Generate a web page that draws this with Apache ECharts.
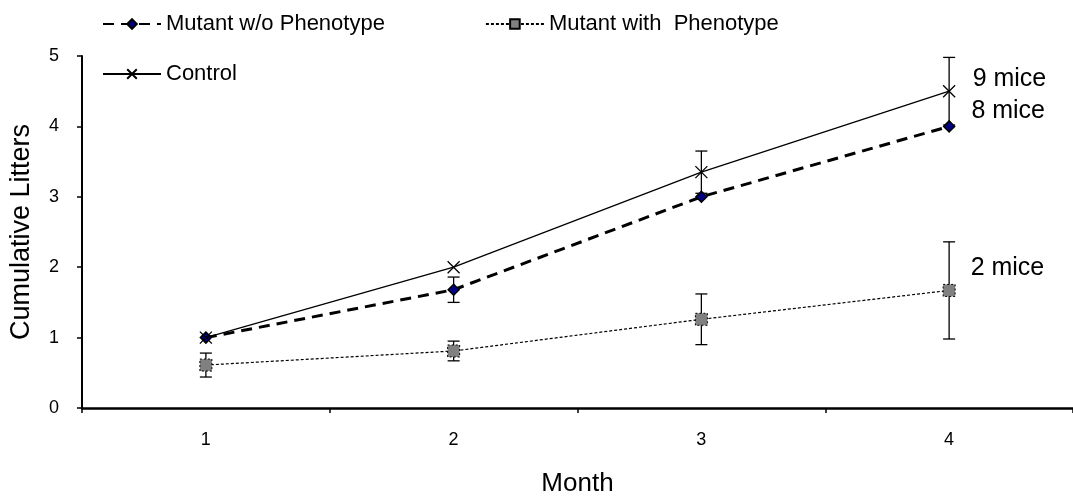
<!DOCTYPE html>
<html>
<head>
<meta charset="utf-8">
<script src="https://cdn.jsdelivr.net/npm/echarts@6/dist/echarts.min.js"></script>
<style>
  html, body { margin: 0; padding: 0; background: #fff; }
  #chart { width: 1073px; height: 502px; }
</style>
</head>
<body>
<div id="chart"></div>
<script>
// 月份
var months = ['1', '2', '3', '4'];
// 各组均值与误差
var mutantNo = [1.0, 1.68, 3.0, 4.0];
var mutantNoErr = [0, 0.18, 0, 0];
var mutantWith = [0.61, 0.81, 1.26, 1.67];
var mutantWithErr = [0.17, 0.14, 0.36, 0.69];
var control = [1.0, 2.0, 3.35, 4.5];
var controlErr = [0, 0, 0.3, 0.48];
// 最后一点的标注
var miceLabels = { control: '9 mice', mutantNo: '8 mice', mutantWith: '2 mice' };

var font = 'Liberation Sans, Arial, sans-serif';

function withEndLabel(values, text, dist, dy) {
    return values.map(function (v, i) {
        if (i !== values.length - 1) return v;
        return {
            value: v,
            label: {
                show: true, position: 'right', distance: dist, offset: [0, dy],
                formatter: text, color: '#000', fontSize: 25, fontFamily: font
            }
        };
    });
}

function errorSeries(values, errs) {
    var data = values.map(function (v, i) { return [i, v - errs[i], v + errs[i]]; })
        .filter(function (d) { return d[2] - d[1] > 0; });
    return {
        type: 'custom',
        silent: true,
        z: 1,
        data: data,
        renderItem: function (params, api) {
            var x = api.value(0);
            var lo = api.coord([x, api.value(1)]);
            var hi = api.coord([x, api.value(2)]);
            var w = 6;
            var st = { stroke: '#000', lineWidth: 1.3 };
            return {
                type: 'group',
                children: [
                    { type: 'line', shape: { x1: lo[0], y1: lo[1], x2: hi[0], y2: hi[1] }, style: st },
                    { type: 'line', shape: { x1: lo[0] - w, y1: lo[1], x2: lo[0] + w, y2: lo[1] }, style: st },
                    { type: 'line', shape: { x1: hi[0] - w, y1: hi[1], x2: hi[0] + w, y2: hi[1] }, style: st }
                ]
            };
        }
    };
}

var myChart = echarts.init(document.getElementById('chart'));
var option = {
    animation: false,
    backgroundColor: '#fff',
    textStyle: { fontFamily: font, color: '#000' },
    legend: [
        {
            data: ['Mutant w/o Phenotype', 'Mutant with  Phenotype'],
            left: 97, top: 8, itemWidth: 58, itemHeight: 12, itemGap: 100,
            textStyle: { fontSize: 22, color: '#000', fontFamily: font }
        },
        {
            data: ['Control'],
            left: 97, top: 58, itemWidth: 58, itemHeight: 12,
            textStyle: { fontSize: 22, color: '#000', fontFamily: font }
        }
    ],
    grid: { left: 82, top: 56, bottom: 92, right: -3 },
    xAxis: {
        type: 'category',
        data: months,
        name: 'Month', nameLocation: 'middle', nameGap: 63,
        nameTextStyle: { fontSize: 26, color: '#000', fontFamily: font },
        axisLine: { lineStyle: { color: '#000', width: 2.5 } },
        axisTick: { show: true, length: 5, lineStyle: { color: '#000', width: 1.5 } },
        axisLabel: { fontSize: 18, color: '#000', margin: 23, fontFamily: font },
        splitLine: { show: false }
    },
    yAxis: {
        type: 'value',
        min: 0, max: 5, interval: 1,
        name: 'Cumulative Litters', nameLocation: 'middle', nameGap: 47,
        nameTextStyle: { fontSize: 27, color: '#000', fontFamily: font },
        axisLine: { show: true, lineStyle: { color: '#000', width: 2 } },
        axisTick: { show: true, length: 5, lineStyle: { color: '#000', width: 1.5 } },
        axisLabel: { fontSize: 18, color: '#000', margin: 23, fontFamily: font },
        splitLine: { show: false }
    },
    series: [
        errorSeries(mutantNo, mutantNoErr),
        errorSeries(mutantWith, mutantWithErr),
        errorSeries(control, controlErr),
        {
            name: 'Mutant w/o Phenotype',
            type: 'line',
            z: 3,
            data: withEndLabel(mutantNo, miceLabels.mutantNo, 16, -15),
            symbol: 'diamond', symbolSize: 11,
            lineStyle: { color: '#000', width: 3, type: [11, 7] },
            itemStyle: { color: '#000080', borderColor: '#000', borderWidth: 1.5 }
        },
        {
            name: 'Mutant with  Phenotype',
            type: 'line',
            z: 3,
            data: withEndLabel(mutantWith, miceLabels.mutantWith, 15, -22),
            symbol: 'rect', symbolSize: 12,
            lineStyle: { color: '#000', width: 1.2, type: [3, 2] },
            itemStyle: { color: '#808080', borderColor: '#000', borderWidth: 1, borderType: [2, 2] }
        },
        {
            name: 'Control',
            type: 'line',
            z: 4,
            data: withEndLabel(control, miceLabels.control, 15, -12),
            symbol: 'path://M0,0L10,10M10,0L0,10', symbolSize: 12,
            lineStyle: { color: '#000', width: 1.3 },
            itemStyle: { color: 'none', borderColor: '#000', borderWidth: 1.3 }
        }
    ]
};
myChart.setOption(option);
</script>
</body>
</html>
